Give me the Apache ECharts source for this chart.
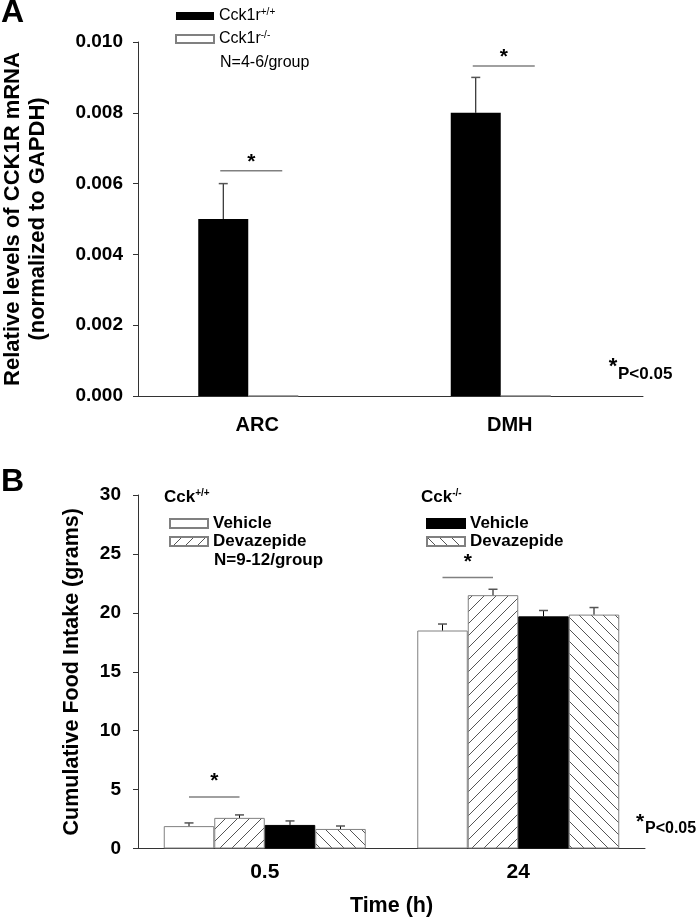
<!DOCTYPE html>
<html><head><meta charset="utf-8">
<script src="https://cdn.jsdelivr.net/npm/echarts@6/dist/echarts.min.js"></script>
<style>html,body{margin:0;padding:0;background:#fff}#c{width:700px;height:920px}</style>
</head><body><div id="c"></div>
<script>
// ---------- Panel A data ----------
const regions = ['ARC', 'DMH'];
const cck1rWT = [0.005, 0.008];
const cck1rWTErr = [0.001, 0.001];
const cck1rKO = [0, 0];
const sigA = [[0, 0.00636], [1, 0.00932]];
const yTicksA = ['0.000', '0.002', '0.004', '0.006', '0.008', '0.010'];

// ---------- Panel B data ----------
const times = ['0.5', '24'];
const wtVehicle = [1.9, 18.5];
const wtVehicleErr = [0.27, 0.55];
const wtDevazepide = [2.6, 21.5];
const wtDevazepideErr = [0.25, 0.5];
const koVehicle = [2.0, 19.7];
const koVehicleErr = [0.34, 0.5];
const koDevazepide = [1.66, 19.85];
const koDevazepideErr = [0.25, 0.6];
const sigB = [[0, 4.38], [1, 23.0]];
const yTicksB = ['0', '5', '10', '15', '20', '25', '30'];

const FF = '"Liberation Sans", Arial, Helvetica, sans-serif';

function hatch(dir) {
  const s = 12;
  const c = document.createElement('canvas');
  c.width = s; c.height = s;
  const g = c.getContext('2d');
  g.fillStyle = '#fff'; g.fillRect(0, 0, s, s);
  g.strokeStyle = '#555'; g.lineWidth = 1;
  g.beginPath();
  if (dir === '/') {
    g.moveTo(-2, s + 2); g.lineTo(s + 2, -2);
    g.moveTo(-2, 2); g.lineTo(2, -2);
    g.moveTo(s - 2, s + 2); g.lineTo(s + 2, s - 2);
  } else {
    g.moveTo(-2, -2); g.lineTo(s + 2, s + 2);
    g.moveTo(s - 2, -2); g.lineTo(s + 2, 2);
    g.moveTo(-2, s - 2); g.lineTo(2, s + 2);
  }
  g.stroke();
  return { image: c, repeat: 'repeat' };
}

function offsets(widths) {
  const total = widths.reduce((a, b) => a + b, 0);
  let x = -total / 2; const out = [];
  widths.forEach(w => { out.push(x + w / 2); x += w; });
  return out;
}
const widthsA = [50, 50, 32];
const offA = offsets(widthsA);
const WB = 50.5;
const offB = offsets([WB, WB, WB, WB]);

function errRender(off) {
  return (params, api) => {
    const b = api.coord([api.value(0), api.value(1)]);
    const t = api.coord([api.value(0), api.value(2)]);
    const x = b[0] + off;
    return { type: 'group', children: [
      { type: 'line', shape: { x1: x, y1: b[1], x2: x, y2: t[1] }, style: { stroke: '#000', lineWidth: 1 } },
      { type: 'line', shape: { x1: x - 4.5, y1: t[1], x2: x + 4.5, y2: t[1] }, style: { stroke: '#555', lineWidth: 1.5 } }
    ] };
  };
}
function sigRender(offL, offR, extL, extR, dy) {
  return (params, api) => {
    const p = api.coord([api.value(0), api.value(1)]);
    const x1 = p[0] + offL - extL, x2 = p[0] + offR + extR, y = p[1];
    return { type: 'group', children: [
      { type: 'line', shape: { x1: x1, y1: y, x2: x2, y2: y }, style: { stroke: '#808080', lineWidth: 1.5 } },
      { type: 'text', style: { text: '*', x: (x1 + x2) / 2, y: y - dy, align: 'center', verticalAlign: 'middle', font: 'bold 21px ' + FF, fill: '#000' } }
    ] };
  };
}
function errData(vals, errs) { return vals.map((v, i) => [i, v, v + errs[i]]); }

const axisLineStyle = { lineStyle: { color: '#333', width: 1 } };
const border = '#808080';

const option = {
  animation: false,
  backgroundColor: '#fff',
  textStyle: { fontFamily: FF },
  grid: [
    { left: 138, right: 57, top: 42, bottom: 524, containLabel: false, outerBoundsMode: 'none' },
    { left: 138, right: 55, top: 495, bottom: 71.5, containLabel: false, outerBoundsMode: 'none' }
  ],
  xAxis: [
    { gridIndex: 0, type: 'category', data: regions, axisTick: { show: false }, axisLine: axisLineStyle,
      axisLabel: { margin: 19, fontSize: 20, fontWeight: 'bold', color: '#000', fontFamily: FF, padding: [0, 14, 0, 0] } },
    { gridIndex: 1, type: 'category', data: times, axisTick: { show: false }, axisLine: axisLineStyle,
      axisLabel: { margin: 13, fontSize: 21, fontWeight: 'bold', color: '#000', fontFamily: FF },
      name: 'Time (h)', nameLocation: 'middle', nameGap: 47, nameMoveOverlap: false,
      nameTextStyle: { fontSize: 21.5, fontWeight: 'bold', color: '#000', fontFamily: FF } }
  ],
  yAxis: [
    { gridIndex: 0, type: 'value', min: 0, max: 0.01, interval: 0.002, splitLine: { show: false },
      axisLine: { show: true, lineStyle: { color: '#333', width: 1 } }, axisTick: { show: true, length: 5, lineStyle: { color: '#333' } },
      axisLabel: { margin: 15, fontSize: 19, fontWeight: 'bold', color: '#000', fontFamily: FF, formatter: (v, i) => yTicksA[i] },
      name: 'Relative levels of CCK1R mRNA\n(normalized to GAPDH)', nameLocation: 'middle', nameGap: 88, nameMoveOverlap: false,
      nameTextStyle: { fontSize: 22, fontWeight: 'bold', color: '#000', lineHeight: 25, fontFamily: FF } },
    { gridIndex: 1, type: 'value', min: 0, max: 30, interval: 5, splitLine: { show: false },
      axisLine: { show: true, lineStyle: { color: '#333', width: 1 } }, axisTick: { show: true, length: 5, lineStyle: { color: '#333' } },
      axisLabel: { margin: 17, fontSize: 19, fontWeight: 'bold', color: '#000', fontFamily: FF, formatter: (v, i) => yTicksB[i] },
      name: 'Cumulative Food Intake (grams)', nameLocation: 'middle', nameGap: 55, nameMoveOverlap: false,
      nameTextStyle: { fontSize: 21.5, fontWeight: 'bold', color: '#000', fontFamily: FF } }
  ],
  legend: [
    { data: ['Cck1r+/+', 'Cck1r-/-'], orient: 'vertical', left: 170, top: 2, itemWidth: 38, itemHeight: 8, itemGap: 5,
      icon: 'rect', selectedMode: false,
      formatter: n => 'Cck1r{s|' + n.slice(5) + '}',
      textStyle: { fontSize: 16, color: '#000', fontFamily: FF, lineHeight: 18,
        rich: { s: { fontSize: 10, verticalAlign: 'top', lineHeight: 12, color: '#000', fontFamily: FF } } } },
    { data: ['Cck+/+ Vehicle', 'Cck+/+ Devazepide'], orient: 'vertical', left: 164, top: 510, itemWidth: 38, itemHeight: 9, itemGap: 1,
      icon: 'rect', selectedMode: false, formatter: n => n.split(' ')[1],
      textStyle: { fontSize: 17, fontWeight: 'bold', color: '#000', fontFamily: FF, lineHeight: 17 } },
    { data: ['Cck-/- Vehicle', 'Cck-/- Devazepide'], orient: 'vertical', left: 421, top: 510, itemWidth: 38, itemHeight: 9, itemGap: 1,
      icon: 'rect', selectedMode: false, formatter: n => n.split(' ')[1],
      textStyle: { fontSize: 17, fontWeight: 'bold', color: '#000', fontFamily: FF, lineHeight: 17 } }
  ],
  series: [
    // Panel A
    { name: 'Cck1r+/+', type: 'bar', xAxisIndex: 0, yAxisIndex: 0, data: cck1rWT, barWidth: widthsA[0], barGap: '0%',
      itemStyle: { color: '#000', borderColor: '#000', borderWidth: 0 } },
    { name: 'Cck1r-/-', type: 'bar', xAxisIndex: 0, yAxisIndex: 0, data: cck1rKO, barWidth: widthsA[1], barGap: '0%',
      itemStyle: { color: '#fff', borderColor: border, borderWidth: 1 } },
    { name: 'spacer', type: 'bar', xAxisIndex: 0, yAxisIndex: 0, data: cck1rKO, barWidth: widthsA[2], barGap: '0%', silent: true,
      itemStyle: { color: 'rgba(0,0,0,0)' } },
    { type: 'custom', xAxisIndex: 0, yAxisIndex: 0, data: errData(cck1rWT, cck1rWTErr), renderItem: errRender(offA[0]), silent: true, z: 5 },
    { type: 'custom', xAxisIndex: 0, yAxisIndex: 0, data: sigA, renderItem: sigRender(offA[0], offA[1], 3, 9, 9), silent: true, z: 5 },
    // Panel B
    { name: 'Cck+/+ Vehicle', type: 'bar', xAxisIndex: 1, yAxisIndex: 1, data: wtVehicle, barWidth: WB, barGap: '0%',
      itemStyle: { color: '#fff', borderColor: border, borderWidth: 1 } },
    { name: 'Cck+/+ Devazepide', type: 'bar', xAxisIndex: 1, yAxisIndex: 1, data: wtDevazepide, barWidth: WB, barGap: '0%',
      itemStyle: { color: hatch('/'), borderColor: border, borderWidth: 1 } },
    { name: 'Cck-/- Vehicle', type: 'bar', xAxisIndex: 1, yAxisIndex: 1, data: koVehicle, barWidth: WB, barGap: '0%',
      itemStyle: { color: '#000', borderColor: '#000', borderWidth: 1 } },
    { name: 'Cck-/- Devazepide', type: 'bar', xAxisIndex: 1, yAxisIndex: 1, data: koDevazepide, barWidth: WB, barGap: '0%',
      itemStyle: { color: hatch('\\'), borderColor: border, borderWidth: 1 } },
    { type: 'custom', xAxisIndex: 1, yAxisIndex: 1, data: errData(wtVehicle, wtVehicleErr), renderItem: errRender(offB[0]), silent: true, z: 5 },
    { type: 'custom', xAxisIndex: 1, yAxisIndex: 1, data: errData(wtDevazepide, wtDevazepideErr), renderItem: errRender(offB[1]), silent: true, z: 5 },
    { type: 'custom', xAxisIndex: 1, yAxisIndex: 1, data: errData(koVehicle, koVehicleErr), renderItem: errRender(offB[2]), silent: true, z: 5 },
    { type: 'custom', xAxisIndex: 1, yAxisIndex: 1, data: errData(koDevazepide, koDevazepideErr), renderItem: errRender(offB[3]), silent: true, z: 5 },
    { type: 'custom', xAxisIndex: 1, yAxisIndex: 1, data: sigB, renderItem: sigRender(offB[0], offB[1], 0, 0, 15.5), silent: true, z: 5 }
  ],
  graphic: [
    { type: 'text', x: 1, y: 13, style: { text: 'A', font: 'bold 32px ' + FF, fill: '#000', verticalAlign: 'middle' } },
    { type: 'text', x: 1, y: 482, style: { text: 'B', font: 'bold 32px ' + FF, fill: '#000', verticalAlign: 'middle' } },
    { type: 'text', x: 220, y: 63, style: { text: 'N=4-6/group', font: '16px ' + FF, fill: '#000', verticalAlign: 'middle' } },
    { type: 'text', x: 613, y: 367, style: { text: '*', font: 'bold 22px ' + FF, fill: '#000', align: 'center', verticalAlign: 'middle' } },
    { type: 'text', x: 618, y: 374, style: { text: 'P<0.05', font: 'bold 17px ' + FF, fill: '#000', verticalAlign: 'middle' } },
    { type: 'text', x: 164, y: 497, style: { text: '{b|Cck}{s|+/+}', verticalAlign: 'middle',
      rich: { b: { font: 'bold 17px ' + FF, fill: '#000', lineHeight: 18 }, s: { font: 'bold 10px ' + FF, fill: '#000', verticalAlign: 'top', lineHeight: 11 } } } },
    { type: 'text', x: 421, y: 497, style: { text: '{b|Cck}{s|-/-}', verticalAlign: 'middle',
      rich: { b: { font: 'bold 17px ' + FF, fill: '#000', lineHeight: 18 }, s: { font: 'bold 10px ' + FF, fill: '#000', verticalAlign: 'top', lineHeight: 11 } } } },
    { type: 'text', x: 214, y: 560, style: { text: 'N=9-12/group', font: 'bold 17px ' + FF, fill: '#000', verticalAlign: 'middle' } },
    { type: 'text', x: 640, y: 822, style: { text: '*', font: 'bold 21px ' + FF, fill: '#000', align: 'center', verticalAlign: 'middle' } },
    { type: 'text', x: 645, y: 829, style: { text: 'P<0.05', font: 'bold 16px ' + FF, fill: '#000', verticalAlign: 'middle' } }
  ]
};

const chart = echarts.init(document.getElementById('c'), null, { renderer: 'canvas' });
chart.setOption(option);
</script>
</body></html>
